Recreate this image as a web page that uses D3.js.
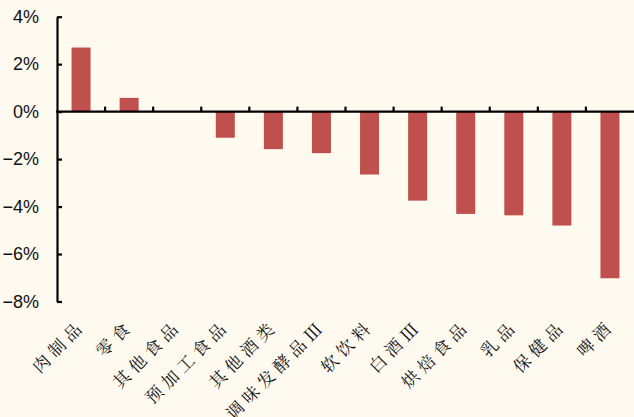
<!DOCTYPE html>
<html>
<head>
<meta charset="utf-8">
<script src="https://cdn.jsdelivr.net/npm/d3@7/dist/d3.min.js"></script>
<style>
  html, body { margin: 0; padding: 0; background: #FEFAF0; }
  svg { display: block; }
</style>
</head>
<body>
<svg id="chart" width="634" height="417"></svg>
<script>
// Category names along the x axis
const categories = ["肉制品", "零食", "其他食品", "预加工食品", "其他酒类", "调味发酵品Ⅲ",
                    "软饮料", "白酒Ⅲ", "烘焙食品", "乳品", "保健品", "啤酒"];
// Change for each category, in percent
const values = [2.7, 0.58, 0, -1.1, -1.58, -1.75, -2.65, -3.75, -4.31, -4.37, -4.8, -7.02];
// Y axis ticks, in percent
const yTicks = [4, 2, 0, -2, -4, -6, -8];

const W = 634, H = 417;
const svg = d3.select("#chart");

svg.append("rect").attr("width", W).attr("height", H).attr("fill", "#FEFAF0");

const x = d3.scaleBand().domain(categories).range([57, 634]).padding(0);
const y = d3.scaleLinear().domain([-8, 4]).range([301.5, 16.7]);
const barW = 19;

const fmt = d => (d < 0 ? "\u2212" + Math.abs(d) : d) + "%";

// bars
svg.append("g")
  .selectAll("rect")
  .data(categories.map((c, i) => ({ c, v: values[i] })))
  .join("rect")
  .attr("x", d => x(d.c) + (x.bandwidth() - barW) / 2)
  .attr("width", barW)
  .attr("y", d => y(Math.max(0, d.v)))
  .attr("height", d => Math.abs(y(d.v) - y(0)))
  .attr("fill", "#C0504D");

// y axis: ticks pointing into the plot
const yAxis = d3.axisLeft(y)
  .tickValues(yTicks)
  .tickFormat(fmt)
  .tickSizeInner(-5)
  .tickSizeOuter(0)
  .tickPadding(18);

const gy = svg.append("g").attr("transform", "translate(57,0)").call(yAxis);
gy.select(".domain").attr("stroke", "#000").attr("stroke-width", 2.2);
gy.selectAll(".tick line").attr("stroke", "#000").attr("stroke-width", 2.2);
gy.selectAll(".tick text")
  .attr("fill", "#111")
  .style("font-family", "'Liberation Sans Narrow', 'Arial Narrow', 'Liberation Sans', sans-serif")
  .style("font-size", "18px");

// x axis line at zero, with category boundary ticks pointing up
const gx = svg.append("g").attr("transform", `translate(0,${y(0)})`);
gx.append("line")
  .attr("x1", 56).attr("x2", 634)
  .attr("stroke", "#000").attr("stroke-width", 2.4);
gx.selectAll("line.bound")
  .data(categories.slice(1))
  .join("line")
  .attr("class", "bound")
  .attr("x1", d => x(d)).attr("x2", d => x(d))
  .attr("y1", 0).attr("y2", -5)
  .attr("stroke", "#000").attr("stroke-width", 2.2);

// rotated category labels: the last character sits just below-left of the band centre
const fontPx = 17, gap = 5, adv = fontPx + gap;
svg.append("g")
  .selectAll("text")
  .data(categories)
  .join("text")
  .attr("transform", d => `translate(${x(d) + x.bandwidth() / 2 - 9.5},331.5) rotate(-45)`)
  .attr("x", d => -((Array.from(d).length - 1) * adv + fontPx / 2))
  .attr("dominant-baseline", "central")
  .attr("text-anchor", "start")
  .attr("fill", "#111")
  .style("font-family", "'Noto Serif CJK SC', 'Noto Sans CJK SC', serif")
  .style("font-size", fontPx + "px")
  .style("letter-spacing", gap + "px")
  .text(d => d);
</script>
</body>
</html>
